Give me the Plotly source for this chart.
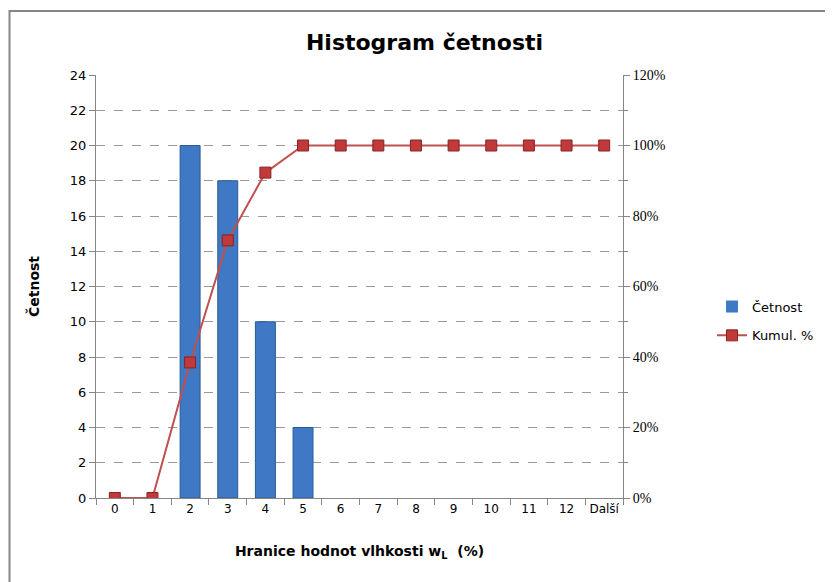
import plotly.graph_objects as go

categories = ["0", "1", "2", "3", "4", "5", "6", "7", "8", "9", "10", "11", "12", "Další"]
cetnost = [0, 0, 20, 18, 10, 4, 0, 0, 0, 0, 0, 0, 0, 0]
kumul = [0.0, 0.0, 38.46, 73.08, 92.31, 100, 100, 100, 100, 100, 100, 100, 100, 100]
left_ticks = list(range(0, 26, 2))
right_ticks = [0, 20, 40, 60, 80, 100, 120]

OFF = 8  # page offset of the figure
L, R, T, B = 96 - OFF, 210 + OFF, 75 - OFF, 84 + OFF
PW, PH = 833 - L - R, 582 - T - B
BOT = 582 - B  # figure y of plot bottom

fig = go.Figure()
fig.add_trace(go.Bar(
    x=categories, y=cetnost, name="Četnost", legendgroup="a",
    marker=dict(color="#3F78C4",
                line=dict(color="#2B5A94", width=[1 if v > 0 else 0 for v in cetnost])),
    yaxis="y",
))
fig.add_trace(go.Scatter(
    x=categories, y=kumul, name="Kumul. %", yaxis="y2", legendgroup="b",
    mode="lines+markers",
    line=dict(color="#C0504D", width=2),
    marker=dict(symbol="square", size=11, color="#C0393B", line=dict(color="#8B2323", width=1)),
))

sansfont = dict(family="DejaVu Sans", size=12, color="#000000")
seriffont = dict(family="Liberation Serif", size=14, color="#000000")
fig.update_layout(
    width=833, height=582,
    paper_bgcolor="white", plot_bgcolor="white",
    margin=dict(l=L, r=R, t=T, b=B),
    title=dict(text="<b>Histogram četnosti</b>", x=0.5, xanchor="center", y=1 - (42 - OFF) / 582,
               yanchor="middle",
               font=dict(family="DejaVu Sans", size=22, color="#000000")),
    bargap=0.47,
    showlegend=True,
    legend=dict(x=(704 - L) / PW, y=(BOT - (321 - OFF)) / PH, xanchor="left", yanchor="middle",
                font=dict(family="DejaVu Sans", size=13, color="#000000"),
                tracegroupgap=9, bgcolor="rgba(0,0,0,0)"),
    xaxis=dict(
        type="category", categoryorder="array", categoryarray=categories,
        range=[-0.5, len(categories) - 0.5],
        showline=True, linecolor="#868686", linewidth=1,
        ticks="outside", tickcolor="#868686", ticklen=6, tickson="boundaries",
        tickangle=0, tickfont=sansfont,
        title=dict(text="<b>Hranice hodnot vlhkosti w<sub>L</sub>  (%)</b>",
                   font=dict(family="DejaVu Sans", size=14, color="#000000"), standoff=30),
        showgrid=False,
    ),
    yaxis=dict(
        range=[0, 24], tickvals=left_ticks, ticks="outside", ticklen=6, tickcolor="#868686",
        showline=True, linecolor="#868686", linewidth=1,
        showgrid=True, gridcolor="#9A9A9A", griddash="dash", gridwidth=1,
        tickfont=dict(family="DejaVu Sans", size=13, color="#000000"),
        title=dict(text="<b>Četnost</b>", font=dict(family="DejaVu Sans", size=14, color="#000000"), standoff=26),
        zeroline=False,
    ),
    yaxis2=dict(
        overlaying="y", side="right", range=[0, 120], tickvals=right_ticks,
        ticktext=[f"{v}%" for v in right_ticks],
        ticks="outside", ticklen=6, tickcolor="#868686",
        minor=dict(dtick=10, ticks="outside", ticklen=4, tickcolor="#868686", showgrid=False),
        showline=True, linecolor="#868686", linewidth=1,
        showgrid=False, zeroline=False, tickfont=seriffont,
    ),
)

# outer chart frame (as close to the page's top-left as the figure allows)
fig.add_shape(type="rect", xref="paper", yref="paper",
              x0=(1.5 - L) / PW, x1=(900 - L) / PW,
              y0=(BOT - 650) / PH, y1=(BOT - (11 - OFF)) / PH,
              line=dict(color="#868686", width=2), fillcolor="rgba(0,0,0,0)", layer="below")

fig.write_html("out.html")
